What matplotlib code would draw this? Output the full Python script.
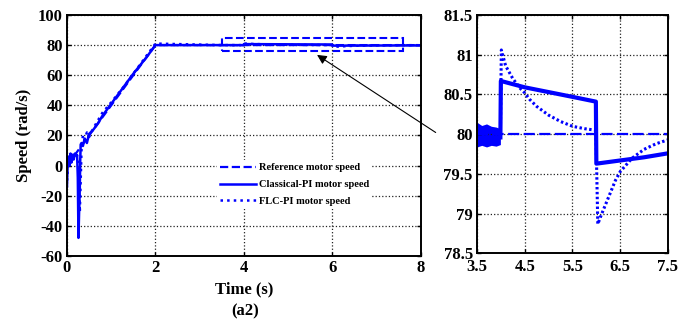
import matplotlib.pyplot as plt

plt.rcParams['font.family'] = ['Liberation Serif', 'DejaVu Serif']
plt.rcParams['font.weight'] = 'bold'
plt.rcParams['axes.unicode_minus'] = False

# reference speed profile (rad/s)
t_ref = [0, 2, 8]
w_ref = [0, 80, 80]

# start-up part, 0 .. 3.5 s
t_pi_start = [0, 0.01, 0.02, 0.04, 0.06, 0.08, 0.1, 0.12, 0.15, 0.18, 0.21, 0.23, 0.245, 0.26, 0.275,
              0.29, 0.3, 0.31, 0.33, 0.36, 0.4, 0.45, 0.5, 0.6, 0.7, 0.8, 1.0, 1.2, 1.5, 1.8, 2.0, 3.5]
w_pi_start = [-14, -4, 3, 6, 0, 8, 2, 7, 4, 8, 7, 6, -8, -48, -30, -15, 4, 14, 15, 13, 18, 15, 21, 24,
              28, 33, 41, 49, 61, 72, 80, 80]
t_flc_start = [0, 0.02, 0.05, 0.08, 0.12, 0.16, 0.2, 0.24, 0.27, 0.29, 0.31, 0.33, 0.36, 0.4, 0.45,
               0.5, 0.6, 0.8, 1.0, 1.3, 1.6, 2.0, 3.5]
w_flc_start = [-10, -2, 6, 2, 8, 5, 9, 6, -5, -31, -10, 12, 20, 17, 22, 19, 25, 35, 42, 53, 65, 81, 80]

# detail around the load steps, 3.5 .. 7.5 s
t_pi = [3.99, 4.0, 4.25, 4.5, 5.0, 5.5, 5.99, 6.0, 6.25, 6.5, 7.0, 7.5]
w_pi = [79.96, 80.67, 80.63, 80.59, 80.53, 80.47, 80.41, 79.63, 79.65, 79.67, 79.71, 79.76]
t_flc = [3.99, 4.01, 4.1, 4.25, 4.4, 4.5, 4.6, 4.75, 5.0, 5.25, 5.5, 5.75, 5.99, 6.03, 6.1, 6.25,
         6.4, 6.5, 6.75, 7.0, 7.25, 7.5]
w_flc = [80.0, 81.06, 80.86, 80.7, 80.58, 80.52, 80.44, 80.35, 80.24, 80.16, 80.1, 80.07, 80.05,
         78.87, 78.98, 79.2, 79.42, 79.53, 79.7, 79.81, 79.88, 79.93]
# noisy band before the first step
t_band = [3.5, 3.6, 3.7, 3.8, 3.9, 3.99]
band_hi = [80.15, 80.11, 80.13, 80.1, 80.09, 80.07]
band_lo = [79.84, 79.86, 79.84, 79.86, 79.85, 79.87]

blue = '#0000ff'

fig = plt.figure(figsize=(6.94, 3.29), dpi=100)
ax1 = fig.add_axes([0.0965, 0.222, 0.51, 0.7325])
ax2 = fig.add_axes([0.6873, 0.2295, 0.2752, 0.725])

# ---- left: full run ----
ax1.plot(t_ref, w_ref, '--', color=blue, lw=1.6, label='Reference motor speed')
ax1.plot(t_pi_start + t_pi + [8], w_pi_start + w_pi + [w_pi[-1]], '-', color=blue, lw=1.8,
         label='Classical-PI motor speed')
ax1.plot(t_flc_start + t_flc + [8], w_flc_start + w_flc + [w_flc[-1]], ':', color=blue, lw=1.8,
         label='FLC-PI motor speed')
ax1.add_patch(plt.Rectangle((3.5, 76), 4.1, 9, fill=False, ls='--', ec=blue, lw=1.5))
ax1.set_xlim(0, 8)
ax1.set_ylim(-60, 100)
ax1.set_xticks([0, 2, 4, 6, 8])
ax1.set_yticks(range(-60, 101, 20))
ax1.set_xlabel('Time (s)', fontsize=12, fontweight='bold', labelpad=4)
ax1.set_ylabel('Speed (rad/s)', fontsize=12, fontweight='bold', labelpad=4)
leg = ax1.legend(loc='upper left', bbox_to_anchor=(0.41, 0.42), fontsize=7.5, frameon=True,
                 handlelength=3.4, handletextpad=0.3, labelspacing=0.72, borderpad=0.3)
leg.get_frame().set_edgecolor('none')
leg.get_frame().set_facecolor('white')
leg.get_frame().set_alpha(1)
for txt in leg.get_texts():
    txt.set_fontweight('bold')
fig.text(0.353, 0.04, '(a2)', ha='center', fontsize=12, fontweight='bold')

# ---- right: zoom ----
ax2.axhline(80, ls='--', color=blue, lw=1.6, dashes=(5, 2))
ax2.fill_between(t_band, band_lo, band_hi, color=blue, lw=0)
ax2.plot(t_pi, w_pi, '-', color=blue, lw=3)
ax2.plot(t_flc, w_flc, color=blue, lw=2.2, dashes=(0.8, 0.8))
ax2.set_xlim(3.5, 7.5)
ax2.set_ylim(78.5, 81.5)
ax2.set_xticks([3.5, 4.5, 5.5, 6.5, 7.5])
ax2.set_yticks([78.5, 79, 79.5, 80, 80.5, 81, 81.5])
ax2.set_yticklabels(['78.5', '79', '79.5', '80', '80.5', '81', '81.5'])

for ax in (ax1, ax2):
    ax.grid(True, ls=':', color='#222222', lw=0.9)
    ax.tick_params(direction='in', top=True, right=True, labelsize=12, length=3, width=1, pad=3)
    for lab in ax.get_xticklabels() + ax.get_yticklabels():
        lab.set_fontweight('bold')
    for sp in ax.spines.values():
        sp.set_linewidth(1.4)
ax2.tick_params(axis='x', pad=4)

# arrow from the zoom panel back to the box
ax1.annotate('', xy=(5.6, 74.5), xycoords='data', xytext=(438, 329 - 134), textcoords='figure pixels',
             arrowprops=dict(arrowstyle='-|>', color='black', lw=0.8, mutation_scale=14))

fig.savefig('out.png', dpi=100)
